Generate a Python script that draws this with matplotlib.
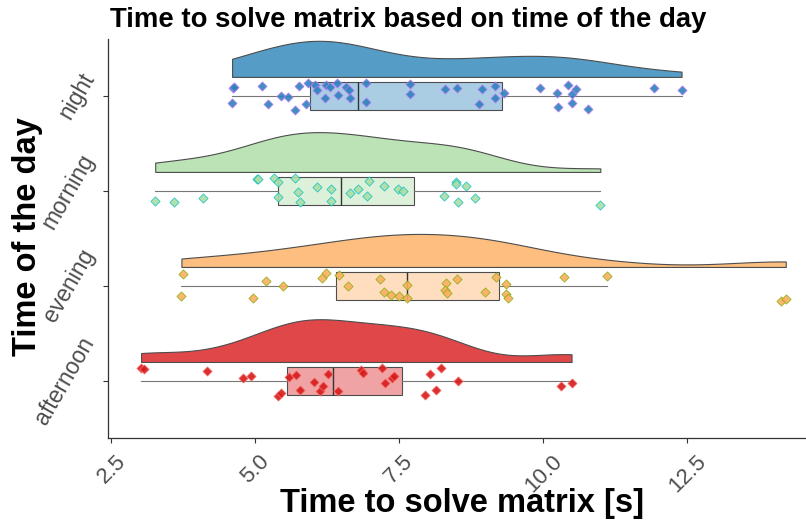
import numpy as np
import matplotlib
matplotlib.use("Agg")
import matplotlib.pyplot as plt
from matplotlib.colors import to_rgba

plt.rcParams['font.family'] = ['Liberation Sans', 'DejaVu Sans']

# ---------------- data ----------------
categories = ["afternoon", "evening", "morning", "night"]

afternoon = [3.015, 3.07, 4.167, 4.78, 4.93, 5.39, 5.44, 5.58, 5.71, 5.77, 6.02, 6.12,
             6.17, 6.26, 6.43, 6.83, 6.875, 7.19, 7.25, 7.38, 7.41, 7.95, 8.03, 8.13,
             8.22, 8.52, 10.30, 10.49]
afternoon_jitter = [0.137, 0.126, 0.109, 0.032, 0.049, -0.154, -0.126, 0.042, 0.067, -0.091,
                    -0.014, -0.109, -0.049, 0.074, -0.109, 0.112, 0.084, 0.137, -0.025, 0.032,
                    0.056, -0.144, 0.074, -0.091, 0.137, 0.0, -0.056, -0.021]

evening = [3.745, 3.715, 4.95, 5.18, 5.48, 6.16, 6.23, 6.46, 6.61, 7.165, 7.24, 7.35,
           7.49, 7.63, 7.64, 8.31, 8.30, 8.33, 8.50, 8.99, 9.18, 9.35, 9.35, 9.39,
           10.36, 11.105, 14.12, 14.21]
evening_jitter = [0.126, -0.102, -0.123, 0.053, -0.004, 0.084, 0.133, 0.116, 0.004, 0.077,
                  -0.060, -0.091, -0.102, 0.014, -0.123, 0.032, -0.042, -0.074, 0.077, -0.067,
                  0.095, 0.025, -0.081, -0.123, 0.098, 0.102, -0.154, -0.133]

morning = [3.26, 3.59, 4.09, 5.03, 5.05, 5.33, 5.39, 5.39, 5.68, 5.74, 5.78, 6.07,
           6.32, 6.32, 6.64, 6.78, 6.93, 6.97, 7.23, 7.48, 7.57, 8.28, 8.48, 8.49,
           8.52, 8.66, 8.82, 10.99]
morning_jitter = [-0.105, -0.116, -0.070, 0.130, 0.123, 0.133, 0.091, -0.067, 0.133, -0.007,
                  -0.119, 0.039, 0.018, -0.105, -0.025, 0.025, -0.056, 0.109, 0.049, 0.018,
                  0.0, -0.056, 0.091, 0.074, -0.119, 0.053, -0.077, -0.147]

night = [4.612, 4.62, 4.595, 5.11, 5.22, 5.45, 5.57, 5.68, 5.75, 5.885, 5.92, 6.04,
         6.07, 6.215, 6.23, 6.30, 6.42, 6.43, 6.57, 6.62, 6.64, 6.92, 6.92, 7.68,
         7.685, 8.29, 8.50, 8.88, 8.93, 9.16, 9.16, 9.32, 9.95, 10.24, 10.255, 10.43,
         10.49, 10.49, 10.56, 10.78, 11.92, 12.40]
night_jitter = [0.088, 0.098, -0.070, 0.102, -0.081, 0.0, -0.011, -0.144, 0.102, -0.088,
                0.140, 0.116, 0.063, -0.018, 0.116, 0.091, 0.140, 0.011, 0.091, 0.060,
                -0.025, 0.140, -0.060, 0.123, 0.018, 0.077, 0.084, -0.084, 0.070, 0.102,
                -0.025, 0.035, 0.084, 0.032, -0.112, 0.119, 0.018, -0.077, 0.077, -0.137,
                0.088, 0.060]

values = [afternoon, evening, morning, night]
jitters = [afternoon_jitter, evening_jitter, morning_jitter, night_jitter]

fill_colors = ["#d7191c", "#fdae61", "#abdda4", "#2b83ba"]
edge_colors = ["#F8766D", "#7CAE00", "#00BFC4", "#C77CFF"]

x_ticks = [2.5, 5.0, 7.5, 10.0, 12.5]
x_tick_labels = ["2.5", "5.0", "7.5", "10.0", "12.5"]

title = "Time to solve matrix based on time of the day"
x_title = "Time to solve matrix [s]"
y_title = "Time of the day"


# ---------------- helpers ----------------
def bw_nrd0(x):
    x = np.asarray(x, float)
    sd = np.std(x, ddof=1)
    q75, q25 = np.percentile(x, [75, 25])
    lo = min(sd, (q75 - q25) / 1.34)
    return 0.9 * lo * len(x) ** -0.2


def kde(x):
    x = np.asarray(x, float)
    bw = bw_nrd0(x)
    grid = np.linspace(x.min(), x.max(), 512)
    d = np.exp(-0.5 * ((grid[:, None] - x[None, :]) / bw) ** 2).sum(1)
    d /= len(x) * bw * np.sqrt(2 * np.pi)
    return grid, d


# ---------------- figure ----------------
W, H = 806, 524
fig = plt.figure(figsize=(W / 100, H / 100), dpi=100)
ax_left, ax_right, ax_top, ax_bottom = 108, 818, 38.9, 438
ax = fig.add_axes([ax_left / W, 1 - ax_bottom / H,
                   (ax_right - ax_left) / W, (ax_bottom - ax_top) / H])

positions = np.arange(1, len(categories) + 1)
dens = [kde(v) for v in values]
dmax = max(d.max() for _, d in dens)
vwidth = 0.9
nudge = 0.2
line_col = "#4d4d4d"

for i, (pos, (g, d)) in enumerate(zip(positions, dens)):
    base = pos + nudge
    ax.fill_between(g, base, base + d / dmax * vwidth / 2,
                    facecolor=to_rgba(fill_colors[i], 0.8),
                    edgecolor=line_col, linewidth=0.8, zorder=2)

bp = ax.boxplot(values, positions=positions, widths=0.3, orientation='horizontal',
                patch_artist=True, showfliers=False, showcaps=False, whis=1.5,
                boxprops=dict(edgecolor=line_col, linewidth=0.8),
                whiskerprops=dict(color="#777777", linewidth=0.8),
                medianprops=dict(color="#333333", linewidth=1.0),
                zorder=3)
for patch, c in zip(bp['boxes'], fill_colors):
    patch.set_facecolor(to_rgba(c, 0.4))

for i, pos in enumerate(positions):
    ax.scatter(values[i], pos + np.asarray(jitters[i]), marker='D', s=22,
               facecolor=to_rgba(fill_colors[i], 0.9),
               edgecolor=to_rgba(edge_colors[i], 0.8),
               linewidths=0.6, zorder=4)

ax.set_xlim(2.44, 14.77)
ax.set_ylim(0.4, 4.6)
ax.set_xticks(x_ticks)
ax.set_xticklabels(x_tick_labels, rotation=45, ha='center', va='top',
                   fontsize=16, color='#4d4d4d')
ax.set_yticks(positions)
ax.set_yticklabels(categories, rotation=60, ha='right', va='center',
                   fontsize=16.5, color='#4d4d4d')
ax.tick_params(axis='both', length=3.5, width=0.8, color='#333333')
ax.tick_params(axis='x', pad=6)
ax.tick_params(axis='y', pad=3)
for s in ['top', 'right']:
    ax.spines[s].set_visible(False)
for s in ['left', 'bottom']:
    ax.spines[s].set_color('#333333')
    ax.spines[s].set_linewidth(0.9)

fig.text(110 / W, 1 - 27 / H, title, fontsize=19.8, fontweight='bold',
         ha='left', va='baseline')
fig.text(462 / W, 1 - 512 / H, x_title, fontsize=23.5, fontweight='bold',
         ha='center', va='baseline')
fig.text(28 / W, 1 - 237 / H, y_title, fontsize=23.5, fontweight='bold',
         ha='center', va='center', rotation=90)

fig.savefig("out.png", dpi=100)
